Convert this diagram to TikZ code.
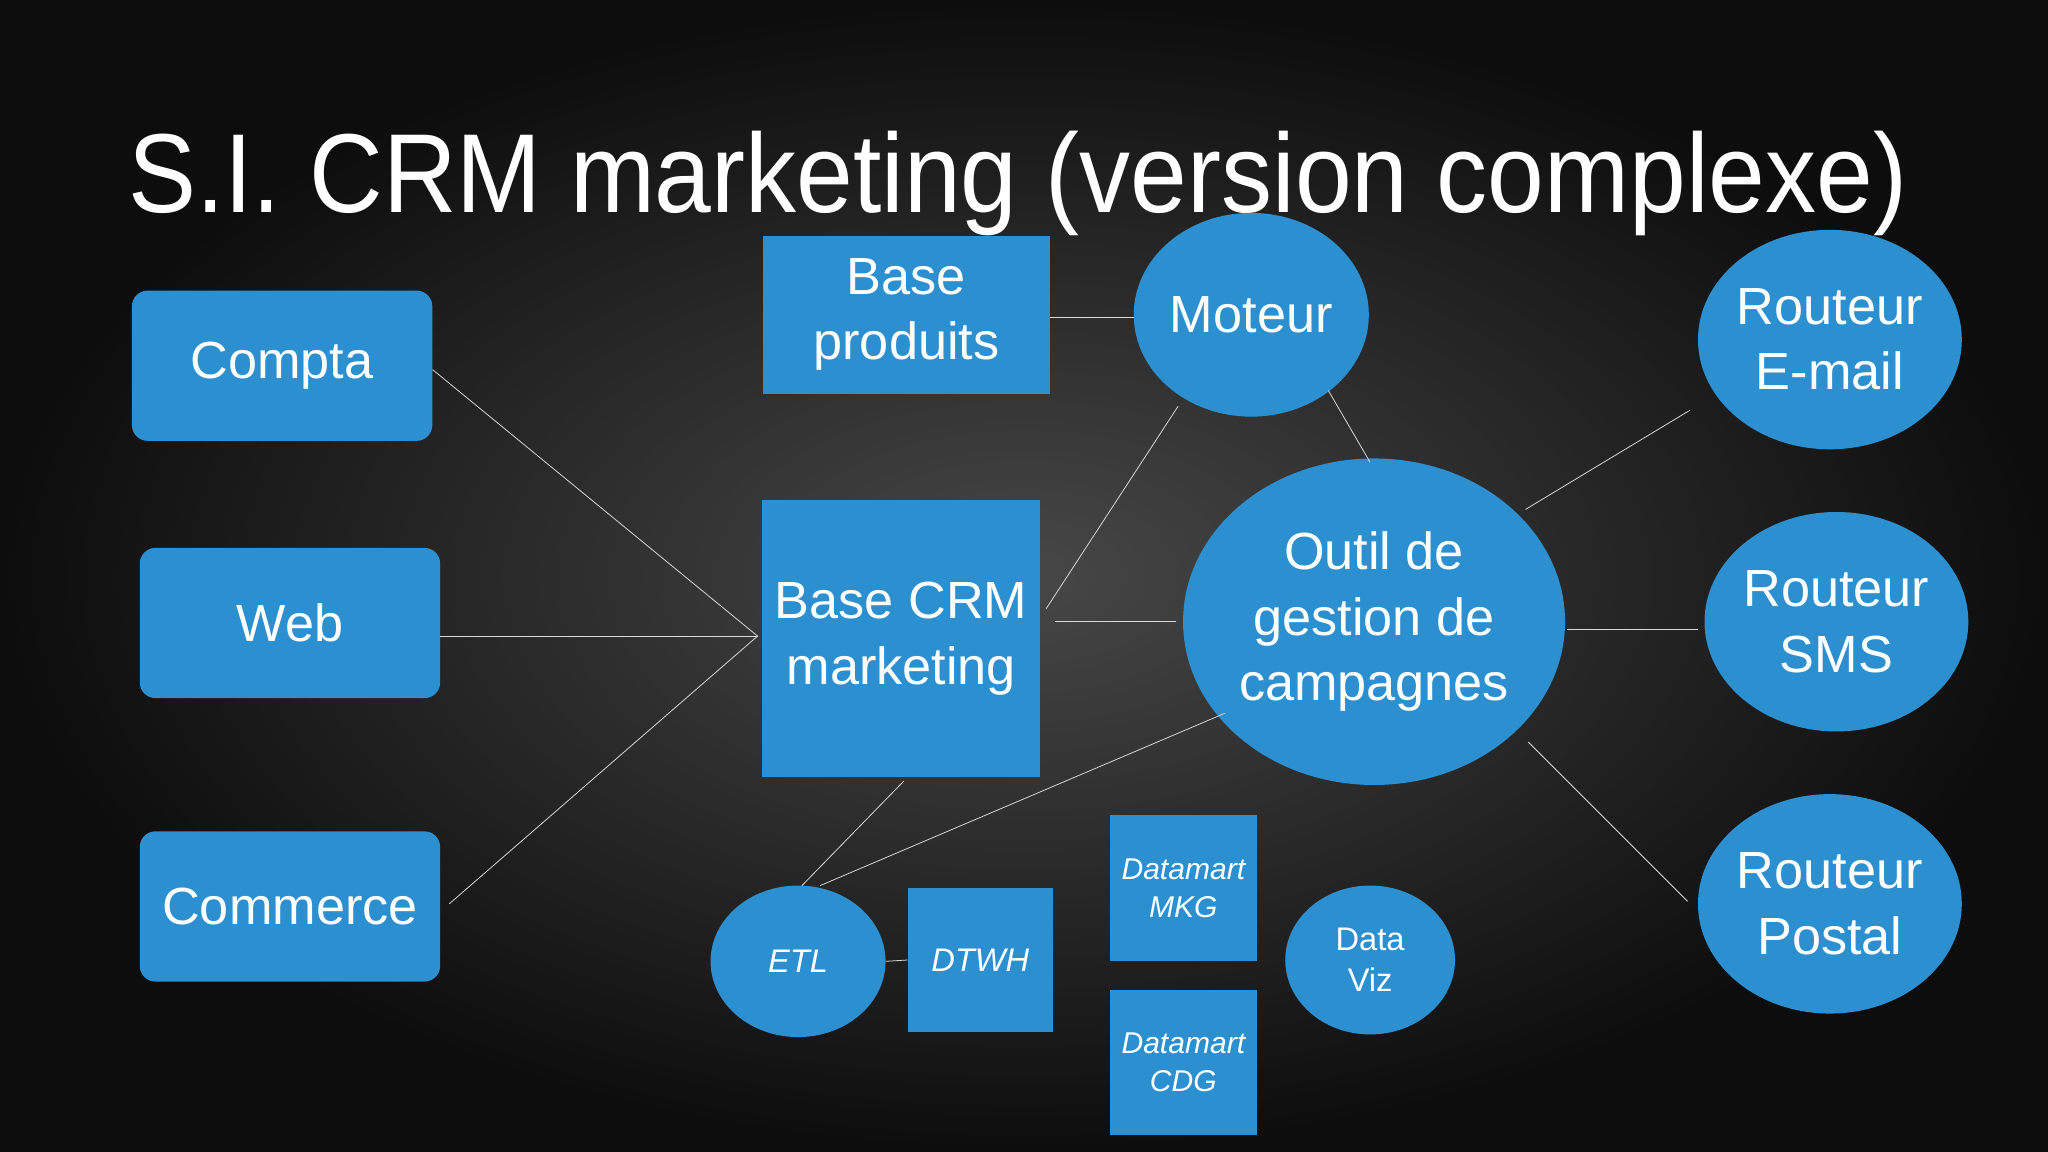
\documentclass[tikz,border=0pt]{standalone}
\usepackage{fontspec}
\usepackage{graphicx}
\setmainfont{Liberation Sans}
\usetikzlibrary{shapes.geometric}
\definecolor{bx}{HTML}{2C8FCF}
\tikzset{
  rbox/.style={fill=bx,rounded corners=12pt,minimum width=230pt,minimum height=115pt,inner sep=0pt,text=white,font=\fontsize{40}{46}\selectfont,align=center},
  sbox/.style={fill=bx,inner sep=0pt,text=white,font=\fontsize{40}{50}\selectfont,align=center},
  ell/.style={fill=bx,ellipse,inner sep=0pt,text=white,font=\fontsize{40}{50}\selectfont,align=center},
  ln/.style={draw=white!85!black,line width=0.6pt}
}
\begin{document}
\begin{tikzpicture}[x=1pt,y=-1pt]
\shade[inner color=black!72,outer color=black!95] (0,0) rectangle (1568,882);
\useasboundingbox (0,0) rectangle (1568,882);
\node[anchor=base west,text=white,font=\fontsize{86}{90}\selectfont,inner sep=0pt] (title) at (98,163) {\resizebox{1362pt}{\height}{S.I. CRM marketing (version complexe)}};
\node[rbox] (compta) at (216,280) {Compta};
\node[rbox] (web) at (222,477) {Web};
\node[rbox] (comm) at (222,694) {Commerce};
\node[sbox,minimum width=220pt,minimum height=121pt] (bp) at (694,241) {Base\\produits};
\node[ell,minimum width=180pt,minimum height=156pt] (mot) at (958,241) {Moteur};
\node[sbox,minimum width=213pt,minimum height=212pt] (crm) at (690,489) {Base CRM\\marketing};
\node[ell,minimum width=288pt,minimum height=250pt] (outil) at (1052,476) {Outil de\\gestion de\\campagnes};
\node[ell,minimum width=202pt,minimum height=168pt] (rem) at (1401,260) {Routeur\\E-mail};
\node[ell,minimum width=202pt,minimum height=168pt] (rsms) at (1406,476) {Routeur\\SMS};
\node[ell,minimum width=202pt,minimum height=168pt] (rpos) at (1401,692) {Routeur\\Postal};
\node[ell,minimum width=134pt,minimum height=116pt,font=\fontsize{25}{30}\selectfont\itshape] (etl) at (611,736) {ETL};
\node[sbox,minimum width=111pt,minimum height=110pt,font=\fontsize{25}{30}\selectfont\itshape] (dtwh) at (750.5,735) {DTWH};
\node[sbox,minimum width=112pt,minimum height=112pt,font=\fontsize{23}{29}\selectfont\itshape] (dmkg) at (906,680) {Datamart\\MKG};
\node[sbox,minimum width=112pt,minimum height=111pt,font=\fontsize{23}{29}\selectfont\itshape] (dcdg) at (906,813.5) {Datamart\\CDG};
\node[ell,minimum width=130pt,minimum height=114pt,font=\fontsize{25}{31}\selectfont] (dviz) at (1049,735) {Data\\Viz};
\coordinate (hub) at (580,487);
\draw[ln] (compta.east) ++(0,3) -- (hub);
\draw[ln] (web.east) ++(0,10) -- (hub);
\draw[ln] (344,692) -- (hub);
\draw[ln] (bp.east) ++(0,2) -- ++(64,0);
\draw[ln] (801,466) -- (902,311);
\draw[ln] (1017,299) -- (1049,354);
\draw[ln] (808,476) -- (900,476);
\draw[ln] (1168,390) -- (1294,314);
\draw[ln] (1200,482) -- (1300,482);
\draw[ln] (1170,568) -- (1292,690);
\draw[ln] (692,598) -- (614,678);
\draw[ln] (628,678) -- (938,546);
\draw[ln] (etl.east) -- (dtwh.west);
\end{tikzpicture}
\end{document}
